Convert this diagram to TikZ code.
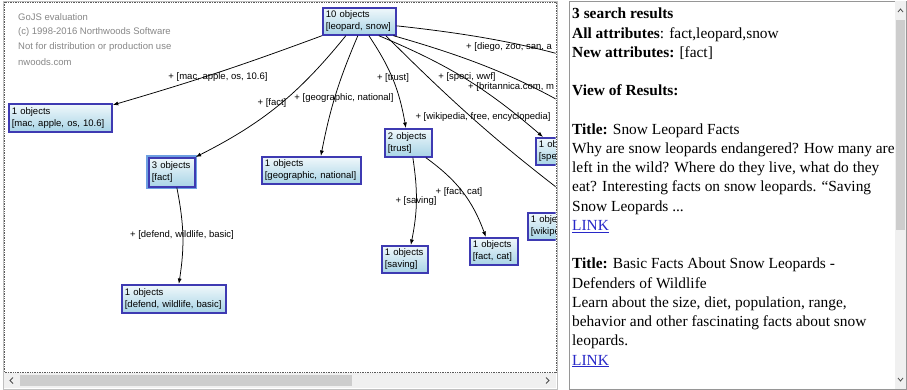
\documentclass[tikz,border=0pt]{standalone}
\usepackage{fontspec}
\setmainfont{Liberation Serif}
\newfontfamily\arialf{Liberation Sans}
\usetikzlibrary{arrows.meta}
\definecolor{nodeblue}{RGB}{62,58,178}
\definecolor{selblue}{RGB}{110,160,225}
\definecolor{gtop}{RGB}{240,248,251}
\definecolor{gbot}{RGB}{168,212,230}
\definecolor{wmgray}{RGB}{135,135,135}
\definecolor{sbbg}{RGB}{240,240,240}
\definecolor{sbthumb}{RGB}{205,205,205}
\definecolor{linkblue}{RGB}{40,40,200}
\definecolor{panelgray}{RGB}{150,150,150}
\definecolor{dotgray}{RGB}{90,90,90}
\begin{document}
\begin{tikzpicture}[x=1pt,y=-1pt,
  obj/.style={draw=nodeblue, line width=1.7pt, top color=gtop, bottom color=gbot,
    anchor=north west, align=left, inner xsep=3pt, inner ysep=2pt,
    font=\arialf\fontsize{9.5}{12}\selectfont},
  selobj/.style={obj, preaction={draw=selblue, line width=5pt}},
  lnk/.style={draw=black, line width=0.75pt, -{Latex[length=5.5pt,width=4pt]}},
  lbl/.style={font=\arialf\fontsize{9.5}{11}\selectfont, inner sep=0pt},
  wm/.style={font=\arialf\fontsize{9.5}{11}\selectfont, text=wmgray, anchor=west, inner sep=0pt},
  rtxt/.style={font=\fontsize{15.4}{19}\selectfont, anchor=base west, inner sep=0pt,
    text height=10.5pt, text depth=3.5pt},
  chev/.style={draw=black!70, line width=0.8pt}
]
\useasboundingbox (0,0) rectangle (907,390);
\fill[white] (0,0) rectangle (907,390);

% ---------- left panel frame ----------
\draw[panelgray!60, line width=0.6pt] (3,1) rectangle (557,389);
\fill[sbbg] (4,373) rectangle (556,388);
\fill[sbthumb] (20,375) rectangle (352,386);
\draw[chev] (13,377.5) -- (10,380.5) -- (13,383.5);
\draw[chev] (546,377.5) -- (549,380.5) -- (546,383.5);
\draw[dotgray, densely dotted, line width=0.7pt] (4,2) rectangle (556,372);

% ---------- watermark ----------
\node[wm] (w1) at (18,17) {GoJS evaluation};
\node[wm] (w2) at (18,32.5) {(c) 1998-2016 Northwoods Software};
\node[wm] (w3) at (18,47.5) {Not for distribution or production use};
\node[wm] (w4) at (18,62) {nwoods.com};

% ---------- diagram ----------
\begin{scope}
\clip (4.5,2.5) rectangle (555.5,371.5);
\node[obj, text width=67pt, minimum height=27pt] (root) at (322,7) {10 objects\\{}[leopard, snow]};
\node[obj, text width=97pt, minimum height=28pt] (mac) at (8,103) {1 objects\\{}[mac, apple, os, 10.6]};
\node[selobj, text width=40pt, minimum height=29pt] (fact) at (148,157) {3 objects\\{}[fact]};
\node[obj, text width=93pt, minimum height=27pt] (geo) at (261,156) {1 objects\\{}[geographic, national]};
\node[obj, text width=41pt, minimum height=28pt] (trust) at (384,128) {2 objects\\{}[trust]};
\node[obj, text width=64pt, minimum height=27pt] (speci) at (535,137) {1 objects\\{}[speci, wwf]};
\node[obj, text width=144pt, minimum height=27pt] (wiki) at (527,212) {1 objects\\{}[wikipedia, free, encyclopedia]};
\node[obj, text width=40pt, minimum height=27pt] (saving) at (381,245) {1 objects\\{}[saving]};
\node[obj, text width=42pt, minimum height=27pt] (factcat) at (469,237) {1 objects\\{}[fact, cat]};
\node[obj, text width=98pt, minimum height=28pt] (defend) at (121,284) {1 objects\\{}[defend, wildlife, basic]};
\coordinate (brit) at (650,160);
\coordinate (diego) at (690,100);

\draw[lnk] (root.south west) to[bend left=2] ([yshift=-2pt]mac.north east);
\draw[lnk] ([xshift=-13.5pt]root.south) to[bend left=12] (fact.north east);
\draw[lnk] ([xshift=-1.5pt]root.south) to[bend right=6] ([xshift=9.5pt]geo.north);
\draw[lnk] ([xshift=9.5pt]root.south) to[bend left=12] ([xshift=-2.5pt]trust.north);
\draw[lnk] ([xshift=19.5pt]root.south) to[bend left=9] ([xshift=8pt]speci.north west);
\draw[lnk] ([xshift=26.5pt]root.south) to[bend right=4] ([xshift=-14pt]wiki.north);
\draw[lnk] ([xshift=34pt]root.south) to[bend left=10] (brit);
\draw[lnk] ([yshift=-4.5pt]root.east) to[bend left=8] (diego);
\draw[lnk] ([xshift=5pt]fact.south) to[bend left=10] ([xshift=5pt]defend.north);
\draw[lnk] ([xshift=4.5pt]trust.south) to[bend left=10] ([xshift=6pt]saving.north);
\draw[lnk] ([xshift=17.5pt]trust.south) to[bend left=17] ([xshift=-8pt]factcat.north);

\node[lbl] (lmac) at (218,77) {+ [mac, apple, os, 10.6]};
\node[lbl] (lfact) at (272,103) {+ [fact]};
\node[lbl] (lgeo) at (344,98) {+ [geographic, national]};
\node[lbl] (ltrust) at (393,78) {+ [trust]};
\node[lbl] (lspeci) at (467,77) {+ [speci, wwf]};
\node[lbl] (lwiki) at (483,117) {+ [wikipedia, free, encyclopedia]};
\node[lbl, anchor=west] (lbrit) at (468,87) {+ [britannica.com, m};
\node[lbl, anchor=west] (ldiego) at (466,47) {+ [diego, zoo, san, a};
\node[lbl] (ldefend) at (182,235) {+ [defend, wildlife, basic]};
\node[lbl] (lsaving) at (416,201) {+ [saving]};
\node[lbl] (lfactcat) at (459,192) {+ [fact, cat]};
\end{scope}

% ---------- right panel ----------
\draw[panelgray, line width=0.7pt] (569,1) rectangle (906.5,389);
\fill[sbbg] (895,1.5) rectangle (906,388.5);
\fill[sbthumb] (896,20) rectangle (905,230);
\draw[chev] (898,12) -- (900.5,9) -- (903,12);
\draw[chev] (898,378) -- (900.5,381) -- (903,378);

\node[rtxt] (r0) at (572,19) {\textbf{3 search results}};
\node[rtxt] (r1) at (572,38.2) {\textbf{All attributes}: fact,leopard,snow};
\node[rtxt] (r2) at (572,57.4) {\textbf{New attributes:} [fact]};
\node[rtxt] (r4) at (572,95.9) {\textbf{View of Results:}};
\node[rtxt] (r6) at (572,134.3) {\textbf{Title:} Snow Leopard Facts};
\node[rtxt] (r7) at (572,153.5) {Why are snow leopards endangered? How many are};
\node[rtxt] (r8) at (572,172.8) {left in the wild? Where do they live, what do they};
\node[rtxt] (r9) at (572,192) {eat? Interesting facts on snow leopards. “Saving};
\node[rtxt] (r10) at (572,211.2) {Snow Leopards ...};
\node[rtxt, text=linkblue] (r11) at (572,230.4) {\underline{LINK}};
\node[rtxt] (r13) at (572,268.9) {\textbf{Title:} Basic Facts About Snow Leopards -};
\node[rtxt] (r14) at (572,288.1) {Defenders of Wildlife};
\node[rtxt] (r15) at (572,307.3) {Learn about the size, diet, population, range,};
\node[rtxt] (r16) at (572,326.5) {behavior and other fascinating facts about snow};
\node[rtxt] (r17) at (572,345.7) {leopards.};
\node[rtxt, text=linkblue] (r18) at (572,365) {\underline{LINK}};
\end{tikzpicture}
\end{document}
